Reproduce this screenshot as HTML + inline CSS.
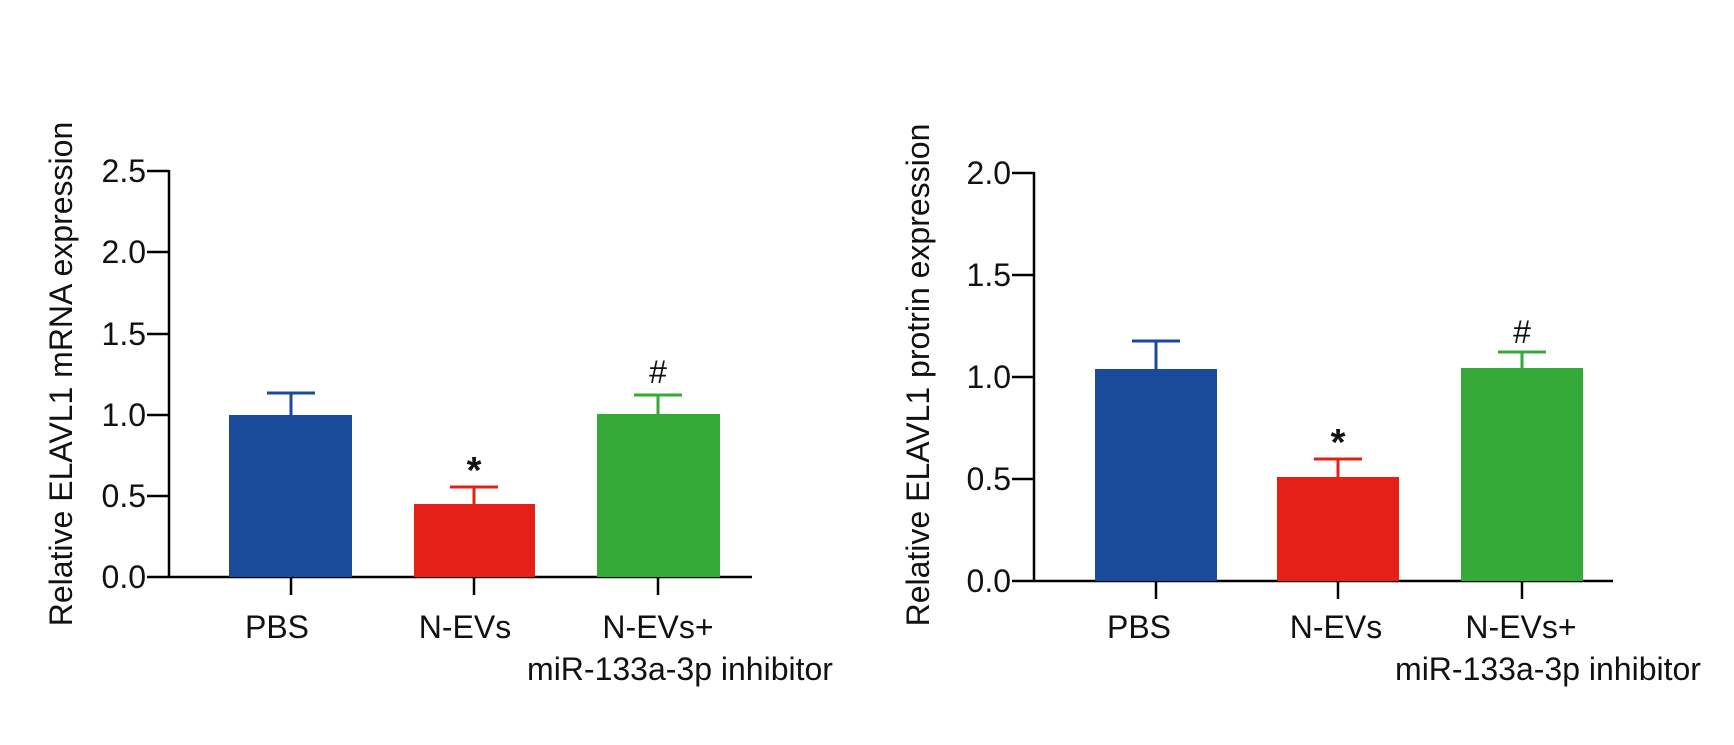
<!DOCTYPE html>
<html><head><meta charset="utf-8"><style>
html,body{margin:0;padding:0;background:#fff;}
svg{display:block;font-family:"Liberation Sans",Arial,sans-serif;}
</style></head><body>
<svg width="1734" height="745" viewBox="0 0 1734 745" xmlns="http://www.w3.org/2000/svg">
<rect width="1734" height="745" fill="#fff"/>
<!-- LEFT CHART -->
<g stroke="#000" stroke-width="2.5" fill="none">
<line x1="169" y1="170" x2="169" y2="578"/>
<line x1="169" y1="577" x2="752" y2="577"/>
<line x1="147" y1="171" x2="169" y2="171"/>
<line x1="147" y1="252" x2="169" y2="252"/>
<line x1="147" y1="334" x2="169" y2="334"/>
<line x1="147" y1="415" x2="169" y2="415"/>
<line x1="147" y1="496" x2="169" y2="496"/>
<line x1="147" y1="577" x2="169" y2="577"/>
<line x1="291" y1="577" x2="291" y2="595"/>
<line x1="474" y1="577" x2="474" y2="595"/>
<line x1="658" y1="577" x2="658" y2="595"/>
</g>
<g font-size="32" text-anchor="end" fill="#111">
<text x="146" y="182">2.5</text>
<text x="146" y="263">2.0</text>
<text x="146" y="345">1.5</text>
<text x="146" y="426">1.0</text>
<text x="146" y="507">0.5</text>
<text x="146" y="588">0.0</text>
</g>
<rect x="229" y="415" width="123" height="162" fill="#1a4a9a"/>
<rect x="414" y="504" width="121" height="73" fill="#e52019"/>
<rect x="597" y="414" width="123" height="163" fill="#36aa39"/>
<g stroke-width="3">
<line x1="291" y1="393" x2="291" y2="415" stroke="#1a4a9a"/>
<line x1="267" y1="393" x2="315" y2="393" stroke="#1a4a9a"/>
<line x1="474" y1="487" x2="474" y2="504" stroke="#e52019"/>
<line x1="450" y1="487" x2="498" y2="487" stroke="#e52019"/>
<line x1="658" y1="395" x2="658" y2="414" stroke="#36aa39"/>
<line x1="634" y1="395" x2="682" y2="395" stroke="#36aa39"/>
</g>
<g text-anchor="middle" fill="#111">
<text x="474" y="483" font-size="38" font-weight="bold">*</text>
<text x="658" y="383" font-size="32">#</text>
</g>
<g font-size="32" text-anchor="middle" fill="#111">
<text x="277" y="638">PBS</text>
<text x="465" y="638">N-EVs</text>
<text x="658" y="638">N-EVs+</text>
<text x="680" y="680">miR-133a-3p inhibitor</text>
</g>
<text transform="translate(72,374) rotate(-90)" font-size="32" text-anchor="middle" fill="#111">Relative ELAVL1 mRNA expression</text>

<!-- RIGHT CHART -->
<g stroke="#000" stroke-width="2.5" fill="none">
<line x1="1034" y1="172" x2="1034" y2="582"/>
<line x1="1034" y1="581" x2="1613" y2="581"/>
<line x1="1012" y1="173" x2="1034" y2="173"/>
<line x1="1012" y1="275" x2="1034" y2="275"/>
<line x1="1012" y1="377" x2="1034" y2="377"/>
<line x1="1012" y1="479" x2="1034" y2="479"/>
<line x1="1012" y1="581" x2="1034" y2="581"/>
<line x1="1156" y1="581" x2="1156" y2="599"/>
<line x1="1338" y1="581" x2="1338" y2="599"/>
<line x1="1522" y1="581" x2="1522" y2="599"/>
</g>
<g font-size="32" text-anchor="end" fill="#111">
<text x="1011" y="184">2.0</text>
<text x="1011" y="286">1.5</text>
<text x="1011" y="388">1.0</text>
<text x="1011" y="490">0.5</text>
<text x="1011" y="592">0.0</text>
</g>
<rect x="1095" y="369" width="122" height="212" fill="#1a4a9a"/>
<rect x="1277" y="477" width="122" height="104" fill="#e52019"/>
<rect x="1461" y="368" width="122" height="213" fill="#36aa39"/>
<g stroke-width="3">
<line x1="1156" y1="341" x2="1156" y2="369" stroke="#1a4a9a"/>
<line x1="1132" y1="341" x2="1180" y2="341" stroke="#1a4a9a"/>
<line x1="1338" y1="459" x2="1338" y2="477" stroke="#e52019"/>
<line x1="1314" y1="459" x2="1362" y2="459" stroke="#e52019"/>
<line x1="1522" y1="352" x2="1522" y2="368" stroke="#36aa39"/>
<line x1="1498" y1="352" x2="1546" y2="352" stroke="#36aa39"/>
</g>
<g text-anchor="middle" fill="#111">
<text x="1338" y="455" font-size="38" font-weight="bold">*</text>
<text x="1522" y="343" font-size="32">#</text>
</g>
<g font-size="32" text-anchor="middle" fill="#111">
<text x="1139" y="638">PBS</text>
<text x="1336" y="638">N-EVs</text>
<text x="1521" y="638">N-EVs+</text>
<text x="1548" y="680">miR-133a-3p inhibitor</text>
</g>
<text transform="translate(929,375) rotate(-90)" font-size="32" text-anchor="middle" fill="#111">Relative ELAVL1 protrin expression</text>
</svg>
</body></html>
